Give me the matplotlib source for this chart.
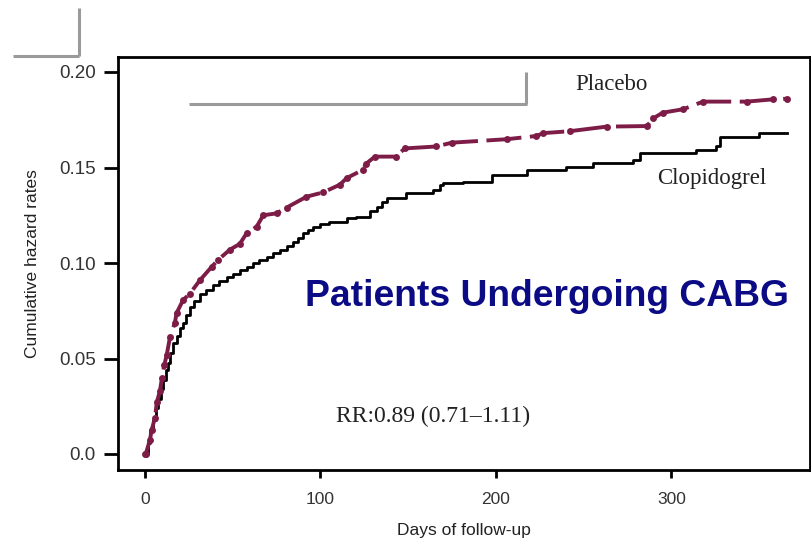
import matplotlib
matplotlib.use("Agg")
import matplotlib.pyplot as plt
from matplotlib.lines import Line2D

# Placebo cumulative hazard (days, rate)
placebo_days = [0, 0.4, 2.8, 3.8, 5.7, 6.7, 8.5, 9.7, 11, 12.4, 14.2, 17, 18, 21.7, 25.6,
                31.3, 38, 41.6, 48.4, 54, 58, 63.6, 67.4, 75, 80.7, 92, 101.6, 111, 115,
                124, 126, 131, 143, 148, 166, 174.8, 206, 223, 227, 242, 263, 286,
                289.5, 295, 306.6, 318, 343, 358, 365.6]
placebo_rate = [0.0, 0.0, 0.0073, 0.0126, 0.019, 0.027, 0.033, 0.040, 0.0466, 0.052,
                0.061, 0.0686, 0.0738, 0.0806, 0.084, 0.091, 0.098, 0.1016, 0.107, 0.110,
                0.1157, 0.119, 0.125, 0.126, 0.129, 0.1347, 0.137, 0.141, 0.1445,
                0.1487, 0.152, 0.1557, 0.1557, 0.160, 0.161, 0.163, 0.1648, 0.1665,
                0.168, 0.169, 0.1714, 0.1717, 0.1757, 0.1787, 0.1805, 0.1845, 0.1845,
                0.1857, 0.186]

# Clopidogrel cumulative hazard (days, rate) - step function
clop_days = [0, 1.5, 3, 4.5, 6, 7.5, 9, 10.5, 12, 13, 14.5, 16, 18, 20, 21.7, 23.5,
             25.6, 28, 31.3, 35, 38.9, 42, 46.5, 50, 54, 58, 61.7, 65, 69.3, 73, 77,
             81, 84.5, 87, 90, 93, 95.8, 100, 105, 115, 120.5, 128, 132, 135, 138,
             149, 164, 168, 170, 181, 198, 217.5, 240, 255, 278, 282, 314, 325.6,
             327.6, 350, 366]
clop_rate = [0.0, 0.006, 0.012, 0.018, 0.024, 0.029, 0.034, 0.039, 0.044, 0.0476,
             0.053, 0.058, 0.062, 0.066, 0.0686, 0.073, 0.077, 0.080, 0.084, 0.086,
             0.0885, 0.0905, 0.0928, 0.0945, 0.0963, 0.098, 0.100, 0.1015, 0.1033,
             0.105, 0.1068, 0.109, 0.111, 0.113, 0.1157, 0.1175, 0.119, 0.1205,
             0.1216, 0.1236, 0.1243, 0.127, 0.1295, 0.1318, 0.134, 0.1366, 0.138,
             0.1408, 0.142, 0.1426, 0.146, 0.1487, 0.1505, 0.1522, 0.154, 0.1574,
             0.159, 0.161, 0.166, 0.1679, 0.1679]

x_ticks = [0, 100, 200, 300]
y_ticks = [0.0, 0.05, 0.10, 0.15, 0.20]
y_ticklabels = ["0.0", "0.05", "0.10", "0.15", "0.20"]

W, H = 812, 548
fig = plt.figure(figsize=(W / 100, H / 100), dpi=100)
fig.patch.set_facecolor("white")

ax_l, ax_r, ax_t, ax_b = 118, 810, 57, 470
ax = fig.add_axes([ax_l / W, 1 - ax_b / H, (ax_r - ax_l) / W, (ax_b - ax_t) / H])

# data-pixel mapping: day0 at px 145, 1.755 px/day ; rate0 at py 454, 1910 px/unit
x0 = (ax_l - 145) / 1.755
x1 = (ax_r - 145) / 1.755
y0 = (454 - ax_b) / 1910
y1 = (454 - ax_t) / 1910
ax.set_xlim(x0, x1)
ax.set_ylim(y0, y1)

maroon = "#7D1D47"
ax.step(clop_days, clop_rate, where="post", color="black", lw=2.0, zorder=2)
ax.plot(placebo_days, placebo_rate, color=maroon, lw=2.8, dashes=(9, 2.2),
        marker="o", markersize=5, markeredgewidth=0, zorder=3)

for s in ax.spines.values():
    s.set_linewidth(2.0)
    s.set_color("black")

sans = ["Liberation Sans", "DejaVu Sans"]
ax.set_xticks(x_ticks)
ax.set_xticklabels([str(v) for v in x_ticks])
ax.set_yticks(y_ticks)
ax.set_yticklabels(y_ticklabels)
ax.tick_params(axis="x", direction="out", length=6, width=2, pad=10,
               labelsize=12.5, labelcolor="#333333")
ax.tick_params(axis="y", direction="out", length=10, width=2, pad=6,
               labelsize=13.5, labelcolor="#333333")
for lab in ax.get_xticklabels() + ax.get_yticklabels():
    lab.set_family(sans)

ax.set_xlabel("Days of follow-up", fontsize=12.5, color="#222222", labelpad=11,
              family=sans)
ax.set_ylabel("Cumulative hazard rates", fontsize=12.5, color="#222222", labelpad=14,
              family=sans)

serif = ["Liberation Serif", "DejaVu Serif"]
ax.text(266, 0.1932, "Placebo", family=serif, fontsize=16.5, color="#222222",
        ha="center", va="center")
ax.text(323, 0.1445, "Clopidogrel", family=serif, fontsize=16.5, color="#222222",
        ha="center", va="center")
ax.text(164, 0.0194, "RR:0.89 (0.71\u20131.11)", family=serif, fontsize=17,
        color="#222222", ha="center", va="center")
ax.text(229, 0.0822, "Patients Undergoing CABG", family=sans,
        fontsize=26.8, fontweight="bold", color="#0B0B85", ha="center", va="center")

# grey crop-mark lines
grey = "#9A9A9A"
def fl(xs, ys):
    fig.add_artist(Line2D([x / W for x in xs], [1 - y / H for y in ys],
                          transform=fig.transFigure, color=grey, lw=2.2,
                          solid_capstyle="butt"))
fl([13, 79], [56, 56])
fl([79, 79], [8, 56])
fl([189, 527], [104, 104])
fl([526, 526], [72, 104])

fig.savefig("out.png", dpi=100, facecolor="white")
